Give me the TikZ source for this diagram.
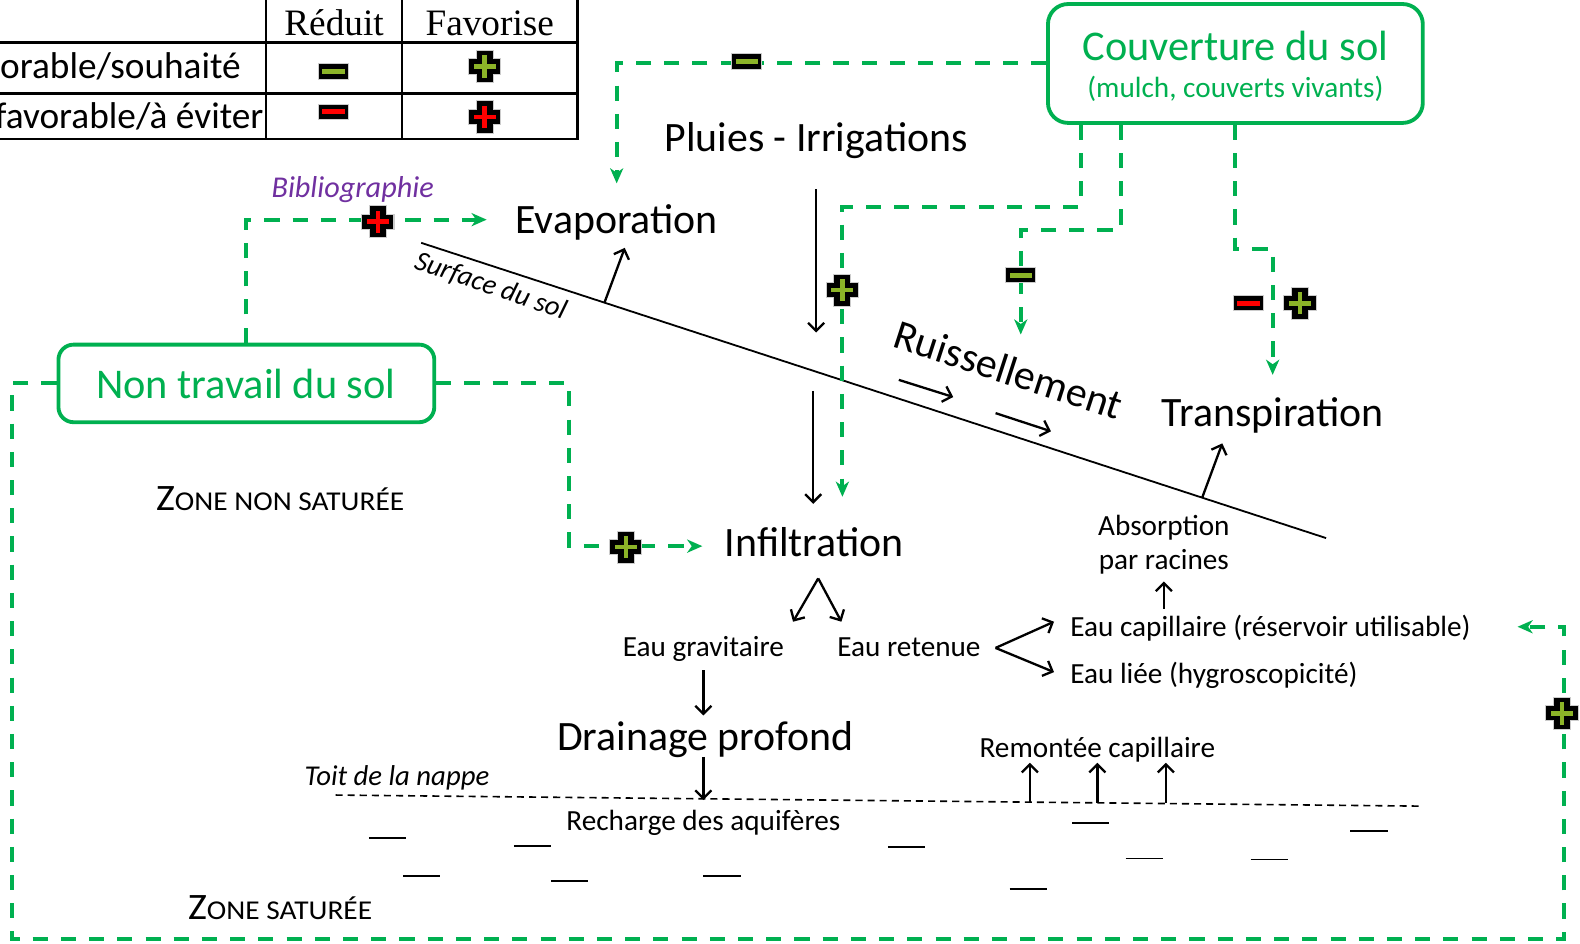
\documentclass[tikz,border=0pt]{standalone}
\usepackage{graphicx}
\usepackage{fontspec}
\setmainfont{Carlito}
\newfontfamily\tblserif{Liberation Serif}
\usetikzlibrary{arrows.meta}
\definecolor{grn}{RGB}{0,176,80}
\definecolor{iconlime}{RGB}{140,180,40}
\definecolor{iconred}{RGB}{255,0,0}
\definecolor{bibcol}{RGB}{112,48,160}
\newcommand\fsz[1]{\fontsize{#1}{#1}\selectfont}
\tikzset{
 pics/iconminus/.style={code={
  \path[fill=black, draw=black!20, line width=1pt] (-15,-7.5) rectangle (15,7.5);
  \fill[#1] (-11,-2.5) rectangle (11,2.5);
 }},
 pics/iconplus/.style={code={
  \path[fill=black, draw=black!20, line width=1pt] (-8.5,-16) -- (8.5,-16) -- (8.5,-7.5) -- (16,-7.5) -- (16,7.5) -- (8.5,7.5) -- (8.5,16) -- (-8.5,16) -- (-8.5,7.5) -- (-16,7.5) -- (-16,-7.5) -- (-8.5,-7.5) -- cycle;
  \fill[#1] (-11,-2.2) rectangle (11,2.2);
  \fill[#1] (-2.2,-11) rectangle (2.2,11);
 }},
}
\begin{document}
\begin{tikzpicture}[x=1pt,y=-1pt,
 gline/.style={draw=grn, line width=4pt, dash pattern=on 15pt off 13pt},
 garrow/.style={gline, -{Stealth[length=15pt,width=13pt,inset=4.5pt]}},
 barrow/.style={draw=black, line width=2.3pt, -{Straight Barb[length=8pt,width=16pt]}},
 gbox/.style={draw=grn, line width=3.8pt, rounded corners=#1, fill=white},
 big/.style={font=\fsz{41.5}, inner sep=0pt},
 small/.style={font=\fsz{29}, inner sep=0pt},
 tbltxt/.style={font=\fsz{37}, inner sep=0pt},
 tblhead/.style={font=\tblserif\fsz{37}, inner sep=0pt},
 zone/.style={inner sep=0pt},
 water/.style={draw=black, line width=1.9pt},
]
\useasboundingbox (0,0) rectangle (1568,936);
\fill[white] (0,0) rectangle (1568,936);
\clip (0,0) rectangle (1568,936);

% ---------- legend table ----------
\draw[line width=2.8pt] (-5,42) -- (573,42) (-5,93) -- (573,93) (-5,138) -- (574.4,138)
  (264,-5) -- (264,138) (399,-5) -- (399,138) (573,-5) -- (573,138);
\node[tblhead, anchor=base] (hRed) at (331.5,35) {Réduit};
\node[tblhead, anchor=base] (hFav) at (486,35) {Favorise};
\node[tbltxt, anchor=base west] (rowA) at (0,78) {orable/souhaité};
\node[tbltxt, anchor=base west] (rowB) at (-5,128) {favorable/à éviter};
\pic at (331,71) {iconminus=iconlime};
\pic at (481,66) {iconplus=iconlime};
\pic at (331,111) {iconminus=iconred};
\pic at (481,116) {iconplus=iconred};

% ---------- boxes ----------
\node[gbox=20pt, minimum width=372pt, minimum height=118pt, inner sep=0pt] (couv) at (1226,63) {};
\node[text=grn, inner sep=0pt, font=\fsz{42}, anchor=base] (couvT) at (1226,60) {Couverture du sol};
\node[small, text=grn, anchor=base] (couvS) at (1226,97) {(mulch, couverts vivants)};
\node[gbox=15pt, minimum width=373pt, minimum height=77pt, inner sep=0pt] (notrav) at (244.5,380.5) {};
\node[text=grn, inner sep=0pt, font=\fsz{42}, anchor=base] (notravT) at (244,395) {Non travail du sol};

% ---------- text nodes ----------
\node[big, anchor=base] (pluies) at (810,150) {Pluies - Irrigations};
\node[big, anchor=base] (evap) at (612,232) {Evaporation};
\node[big, anchor=base] (transp) at (1263,423) {Transpiration};
\node[big, rotate=-18] (ruiss) at (1001,367) {Ruissellement};
\node[big, anchor=base] (infil) at (808,552) {Infiltration};
\node[big, anchor=base] (drain) at (700,745) {Drainage profond};
\node[small, anchor=base] (gravit) at (698,652) {Eau gravitaire};
\node[small, anchor=base] (retenue) at (902,652) {Eau retenue};
\node[small, anchor=base west] (eaucap) at (1062,632) {Eau capillaire (réservoir utilisable)};
\node[small, anchor=base west] (eaulie) at (1062,678) {Eau liée (hygroscopicité)};
\node[small, anchor=base] (absA) at (1155,531) {Absorption};
\node[small, anchor=base] (absB) at (1155,565) {par racines};
\node[small, anchor=base] (remont) at (1089,752) {Remontée capillaire};
\node[small, anchor=base] (recharge) at (698,824) {Recharge des aquifères};
\node[inner sep=0pt, font=\itshape\fsz{28.5}, anchor=base] (toit) at (394,780) {Toit de la nappe};
\node[inner sep=0pt, font=\itshape\fsz{28}, rotate=-19] (surf) at (487,284) {Surface du sol};
\node[inner sep=0pt, font=\itshape\fsz{30}, text=bibcol, anchor=base] (biblio) at (350,196) {Bibliographie};
\node[zone, anchor=base] (zns) at (278,507) {\scalebox{1.08}[1]{{\fsz{37}Z}{\fsz{27}ONE NON SATURÉE}}};
\node[zone, anchor=base] (zs) at (278,913) {\scalebox{1.08}[1]{{\fsz{37}Z}{\fsz{27}ONE SATURÉE}}};

% ---------- soil surface and water table ----------
\coordinate (sA) at (418,241);
\coordinate (sB) at (1316,534);
\draw[line width=1.8pt] (sA) -- (sB);
\coordinate (tA) at (333,789);
\coordinate (tB) at (1410,800);
\draw[line width=1.6pt, dash pattern=on 7pt off 5pt] (tA) -- (tB);

% water bars
\foreach \xx/\yy [count=\i] in {366/832, 510/840, 400/869, 547/874, 698/869, 881/841, 1064/817, 1117/852, 1002/882, 1241/853, 1340/825}
  \draw[water] (\xx,\yy) -- ++(37,0);

% ---------- black arrows ----------
\coordinate (rain1) at (810,188);  \coordinate (rain2) at (810,330);
\draw[barrow] (rain1) -- (rain2);
\coordinate (inf1) at (807,388);  \coordinate (inf2) at (807,500);
\draw[barrow] (inf1) -- (inf2);
\coordinate (ev1) at (600,300);  \coordinate (ev2) at (620,246);
\draw[barrow] (ev1) -- (ev2);
\coordinate (tr1) at (1193,494);  \coordinate (tr2) at (1213,440);
\draw[barrow] (tr1) -- (tr2);
\coordinate (ru1) at (892,377);  \coordinate (ru2) at (946,394);
\draw[barrow] (ru1) -- (ru2);
\coordinate (ru3) at (988,410);  \coordinate (ru4) at (1043,428);
\draw[barrow] (ru3) -- (ru4);
\coordinate (split1) at (812,574);
\coordinate (gr1) at (787,617);  \coordinate (re1) at (835,617);
\draw[barrow] (split1) -- (gr1);
\draw[barrow] (split1) -- (re1);
\coordinate (gd1) at (698,665);  \coordinate (gd2) at (698,710);
\draw[barrow] (gd1) -- (gd2);
\coordinate (dr1) at (698,751);  \coordinate (dr2) at (698,794);
\draw[barrow] (dr1) -- (dr2);
\coordinate (split2) at (988,643);
\coordinate (ca1) at (1046,617);  \coordinate (li1) at (1046,667);
\draw[barrow] (split2) -- (ca1);
\draw[barrow] (split2) -- (li1);
\coordinate (ab1) at (1155,604);  \coordinate (ab2) at (1155,577);
\draw[barrow] (ab1) -- (ab2);
\foreach \xx in {1022,1089,1157}
  \draw[barrow] (\xx,797) -- (\xx,757);

% ---------- green dashed connectors ----------
\coordinate (gA) at (612,182);
\draw[garrow] (couv.west) -| (gA);
\coordinate (bB1) at (1073,205); \coordinate (bB2) at (836,205); \coordinate (gB) at (836,493);
\draw[garrow] (couv.south -| bB1) -- (bB1) -- (bB2) -- (gB);
\coordinate (bC1) at (1112,228); \coordinate (bC2) at (1013,228); \coordinate (gC) at (1013,332);
\draw[garrow] (couv.south -| bC1) -- (bC1) -- (bC2) -- (gC);
\coordinate (bD1) at (1226,247); \coordinate (bD2) at (1263,247); \coordinate (gD) at (1263,372);
\draw[garrow] (couv.south -| bD1) -- (bD1) -- (bD2) -- (gD);
\coordinate (gE) at (483,218);
\draw[garrow] (notrav.north) |- (gE);
\coordinate (bF) at (565,542); \coordinate (gF) at (697,542);
\draw[garrow] (notrav.east) -| (bF) -- (gF);
\coordinate (bG1) at (12,932); \coordinate (bG2) at (1552,932); \coordinate (gG) at (1506,622);
\draw[garrow] (notrav.west) -| (bG1) -- (bG2) |- (gG);

% ---------- icons on connectors ----------
\pic at (741,61) {iconminus=iconlime};
\pic at (836,288) {iconplus=iconlime};
\pic at (1013,273) {iconminus=iconlime};
\pic at (1239,301) {iconminus=iconred};
\pic at (1290,301) {iconplus=iconlime};
\pic at (375,220) {iconplus=iconred};
\pic at (621,543) {iconplus=iconlime};
\pic at (1550,708) {iconplus=iconlime};
\end{tikzpicture}
\end{document}
